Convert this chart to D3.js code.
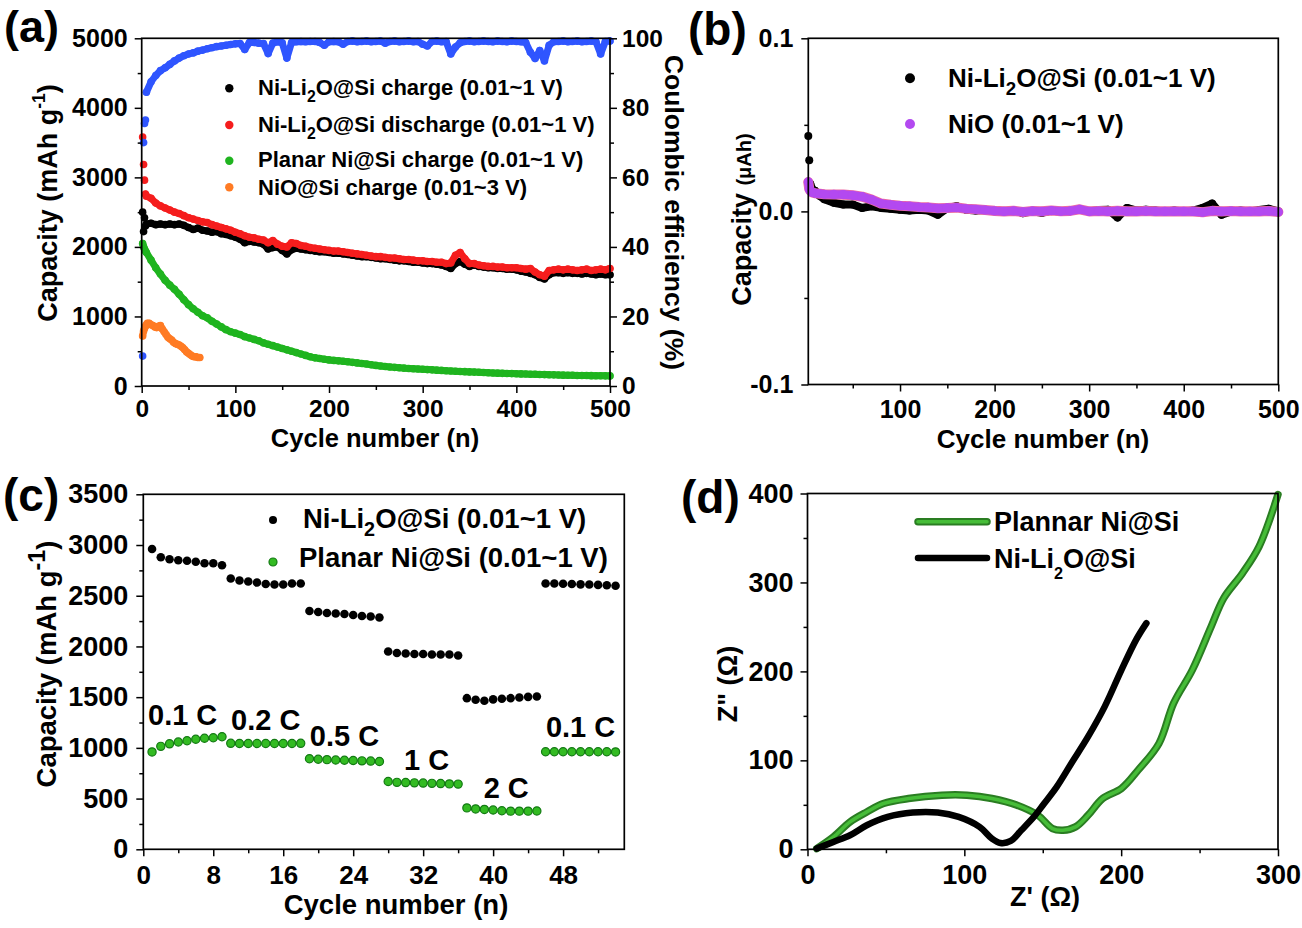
<!DOCTYPE html>
<html><head><meta charset="utf-8">
<script src="https://cdn.jsdelivr.net/npm/d3@7/dist/d3.min.js"></script>
<style>
html,body{margin:0;padding:0;background:#fff;}
svg{display:block;}
</style></head>
<body>
<svg id="fig" width="1302" height="928"></svg>
<script>
// ================= DATA =================
// ---- Panel (a): cycling, capacity (mAh/g) and coulombic efficiency (%) ----
const cyclesA = [1,2,3,4].concat(d3.range(5, 501, 5));
const chargeA = [2500,2220,2420,2300,
  2330,2340,2320,2330,2320,2330,2320,2330,2310,2280,
  2250,2270,2240,2230,2210,2220,2190,2180,2160,2140,
  2110,2060,2080,2070,2060,2040,1970,1990,2000,1950,
  1900,1960,1980,1970,1960,1950,1940,1930,1930,1920,
  1910,1910,1900,1890,1880,1870,1860,1860,1850,1840,
  1830,1830,1820,1810,1800,1800,1790,1780,1780,1770,
  1760,1760,1750,1740,1720,1690,1760,1790,1750,1720,
  1740,1720,1710,1700,1700,1690,1690,1680,1680,1670,
  1650,1640,1620,1600,1560,1540,1600,1630,1630,1620,
  1630,1620,1620,1610,1620,1610,1600,1610,1600,1600];
const dischargeA = [3580,3185,2960,2760,
  2730,2700,2630,2590,2560,2530,2500,2480,2450,2420,
  2400,2380,2360,2350,2320,2300,2280,2260,2240,2210,
  2190,2160,2140,2130,2110,2100,2060,2090,2040,2010,
  2000,2060,2050,2020,2010,1990,1980,1970,1960,1950,
  1940,1940,1930,1920,1910,1900,1890,1880,1870,1860,
  1860,1850,1840,1840,1830,1820,1820,1810,1800,1800,
  1790,1790,1780,1780,1760,1770,1880,1920,1830,1760,
  1760,1740,1730,1720,1720,1710,1710,1700,1700,1700,
  1690,1680,1690,1640,1600,1580,1660,1670,1680,1670,
  1680,1670,1660,1670,1680,1660,1670,1680,1670,1690];
const planarA = [2050,2000,1970,1940,
  1920,1810,1700,1610,1520,1450,1390,1320,1240,1170,
  1110,1060,1010,980,930,890,850,810,780,760,
  740,710,690,670,650,620,600,580,560,540,
  520,500,480,460,440,420,405,395,385,375,
  368,362,356,348,340,332,324,316,306,296,
  288,280,274,268,262,257,252,248,244,240,
  236,232,228,224,220,216,212,209,206,203,
  200,197,194,191,188,185,182,180,178,176,
  174,172,170,168,166,164,162,160,158,156,
  155,154,152,151,150,149,148,147,146,145];
const ceA = [8.6,70,75.5,76.5,
  84.5,87.5,89.3,90.7,91.5,92.5,93.5,94.3,95,95.5,
  95.8,96.3,96.6,97,97.3,97.6,97.8,98,98.2,98.4,
  98.5,96.8,98.8,98.8,98.6,98.5,95.6,98.6,99,98.7,
  94.3,98.8,99,99.1,99,99.1,99.1,98.8,98,99,
  99.1,99,98.3,99.1,99.2,99,99.1,99.2,99,99.1,
  99.2,98.6,99.1,99.2,99,99.1,99.2,99,99.1,98.3,
  97.8,99.1,99.2,99,99.1,95.5,97.5,98.7,99.1,99.2,
  99,99.1,99.2,99.1,99,99.2,99.1,99,99.2,99.1,
  99,98.8,96,94.2,96.5,93.5,98,99,99.1,99.2,
  99,99.1,99.2,99,99.1,99.2,99,95.5,99.1,99.2];
const cyclesNiO = [1,2,3,4,5,6,7,8,10,12,14,16,18,20,22,24,26,28,30,32,34,36,38,40,42,44,46,48,50,52,54,56,58,60,62];
const nioA = [720,790,830,860,880,900,890,900,880,870,850,840,860,870,820,780,740,700,680,660,630,610,600,590,570,550,520,490,470,450,430,420,420,410,410];
const legendA = ["Ni-Li₂O@Si charge (0.01~1 V)", "Ni-Li₂O@Si discharge (0.01~1 V)", "Planar Ni@Si charge (0.01~1 V)", "NiO@Si charge (0.01~3 V)"];
const ticksAx = [0,100,200,300,400,500];
const ticksAy = [0,1000,2000,3000,4000,5000];
const ticksAy2 = [0,20,40,60,80,100];

// ---- Panel (b): capacity (µAh) of current collector ----
const cyclesB = [3,4,5,7,10,15,20].concat(d3.range(30, 501, 10));
const niLiB = [0.0435,0.0295,0.016,0.013,0.012,0.009,0.007,
  0.005,0.004,0.004,0.002,0.003,0.002,0.0015,0.001,0.0005,0.001,
  0.0005,-0.002,0.002,0.003,0.001,0.0005,0.0008,0.0003,0,0.0005,
  -0.001,0,-0.0008,0.0005,0,0.0005,0.001,0,0.0008,0.001,
  -0.0035,0.002,0.0005,0.001,0.0005,0,0.0005,0,0.0005,0.002,
  0.0045,-0.002,0,0.0005,0,0.0008,0.0015,0];
const nioB = [0.017,0.013,0.012,0.011,0.0105,0.0102,0.0099,
  0.0098,0.0097,0.0093,0.0085,0.0068,0.0045,0.0038,0.0033,0.003,0.0025,
  0.0023,0.0018,0.002,0.0022,0.0015,0.0012,0.0008,0.0003,0,0.0003,
  -0.0003,0.0002,0,0.0005,0.0001,0.0003,0.0012,0,0.0002,0,
  0.0003,0,0,0.0002,0,0,0.0001,0,0,-0.0005,
  0.0003,0,0.0002,0,0,0,0.0002,-0.0003];
const legendB = ["Ni-Li₂O@Si (0.01~1 V)", "NiO (0.01~1 V)"];
const ticksBx = [100,200,300,400,500];
const ticksBy = [-0.1,0,0.1];

// ---- Panel (c): rate capability ----
const cyclesC = d3.range(1, 55);
const niLiC = [2960,2880,2860,2850,2845,2835,2820,2820,2800,
  2670,2650,2640,2630,2615,2610,2610,2620,2620,
  2350,2340,2330,2325,2320,2310,2300,2295,2285,
  1950,1935,1930,1925,1925,1920,1920,1920,1910,
  1490,1475,1465,1478,1485,1490,1497,1503,1507,
  2620,2620,2618,2615,2612,2610,2607,2603,2598];
const planarC = [960,1015,1040,1058,1070,1085,1095,1100,1110,
  1045,1043,1043,1043,1043,1043,1043,1043,1045,
  893,888,884,880,878,875,872,870,866,
  668,660,658,655,653,650,648,645,643,
  408,398,393,387,380,376,376,376,378,
  962,962,962,962,962,962,962,962,960];
const rateLabels = ["0.1 C","0.2 C","0.5 C","1 C","2 C","0.1 C"];
const rateCycle = [4.5,14,23,32.4,41.5,50];
const rateCap = [1225,1176,1018,782,506,1107];
const legendC = ["Ni-Li₂O@Si (0.01~1 V)", "Planar Ni@Si (0.01~1 V)"];
const ticksCx = [0,8,16,24,32,40,48];
const ticksCy = [0,500,1000,1500,2000,2500,3000,3500];

// ---- Panel (d): Nyquist plots ----
const zReP = [5.9,16.5,27.1,37.8,48.4,64.4,85.7,101.7,117.6,133.6,146.9,156.2,162.9,170.9,178.9,188.2,200.2,210.8,224.1,233.4,245.4,257.4,265.4,277.4,288,300];
const zImP = [0.8,13.9,30.8,42,51.5,57.1,60.8,60.8,57.1,49.6,38.3,23.3,21.4,25.2,38.3,57.1,68.4,89,119,164.1,201.7,250.5,282.4,310.5,340.6,398.9];
const zReN = [5.9,16.5,27.1,37.8,51.1,67.1,83,96.4,109.7,117.6,123,129.6,136.3,144.3,150.9,158.9,168.2,178.9,189.5,200.2,209.5,216.1];
const zImN = [0.8,8.3,15.8,27,36.4,41.3,41.3,36.4,25.2,12,7.1,9.4,21.4,36.4,51.5,70.2,96.5,126.6,160.4,201.7,235.5,254.3];
const legendD = ["Plannar Ni@Si", "Ni-Li₂O@Si"];
const ticksDx = [0,100,200,300];
const ticksDy = [0,100,200,300,400];

// ================= HELPERS =================
const FONT = '"Liberation Sans", Arial, Helvetica, sans-serif';
const svg = d3.select('#fig');

function rich(t, str, fs, o = {}) {
  const subScale = o.subScale || 0.72, subDy = o.subDy || 0.3;
  const supScale = o.supScale || 0.65, supDy = o.supDy || 0.45;
  let shift = 0;
  str.split(/(₂|⁻¹)/).forEach(p => {
    if (!p) return;
    let target = 0, size = null, txt = p;
    if (p === '₂') { target = fs * subDy; size = fs * subScale; txt = '2'; }
    else if (p === '⁻¹') { target = -fs * supDy; size = fs * supScale; txt = '-1'; }
    const ts = t.append('tspan').text(txt);
    if (target - shift !== 0) ts.attr('dy', target - shift);
    if (size) ts.style('font-size', size + 'px');
    shift = target;
  });
}
function label(g, str, x, y, fs, anchor = 'start', rot = 0, o = {}) {
  const t = g.append('text')
    .attr('transform', `translate(${x},${y}) rotate(${rot})`)
    .attr('text-anchor', anchor).attr('fill', '#000')
    .style('font-family', FONT).style('font-weight', 'bold').style('font-size', fs + 'px');
  rich(t, str, fs, o);
  return t;
}
function axis(g, kind, scale, major, minor, fmt, fs, pad, tx, ty) {
  const gen = {left: d3.axisLeft, right: d3.axisRight, bottom: d3.axisBottom}[kind];
  const a = g.append('g').attr('transform', `translate(${tx},${ty})`)
    .call(gen(scale).tickValues(major).tickSize(7).tickSizeOuter(0).tickPadding(pad).tickFormat(fmt));
  a.select('.domain').remove();
  a.selectAll('line').attr('stroke', '#000').attr('stroke-width', 1.5);
  a.selectAll('text').attr('fill', '#000').style('font-family', FONT)
    .style('font-weight', 'bold').style('font-size', fs + 'px');
  if (minor) {
    const m = g.append('g').attr('transform', `translate(${tx},${ty})`)
      .call(gen(scale).tickValues(minor).tickSize(4).tickSizeOuter(0).tickFormat(''));
    m.select('.domain').remove();
    m.selectAll('line').attr('stroke', '#000').attr('stroke-width', 1.5);
  }
}
function frame(g, xs, ys) {
  g.append('rect').attr('x', xs.range()[0]).attr('y', ys.range()[1])
    .attr('width', xs.range()[1] - xs.range()[0]).attr('height', ys.range()[0] - ys.range()[1])
    .attr('fill', 'none').attr('stroke', '#000').attr('stroke-width', 1.7);
}
function band(g, xv, yv, xs, ys, color, width, r, startIdx, edge) {
  const pts = xv.map((x, i) => [x, yv[i]]);
  const line = d3.line().x(d => xs(d[0])).y(d => ys(d[1]));
  if (edge) {
    g.append('path').attr('d', line(pts.slice(startIdx))).attr('fill', 'none')
      .attr('stroke', edge).attr('stroke-width', width + 1.6)
      .attr('stroke-linejoin', 'round').attr('stroke-linecap', 'round');
  }
  g.append('path').attr('d', line(pts.slice(startIdx))).attr('fill', 'none')
    .attr('stroke', color).attr('stroke-width', width)
    .attr('stroke-linejoin', 'round').attr('stroke-linecap', 'round');
  g.append('g').selectAll('circle').data(pts).join('circle')
    .attr('cx', d => xs(d[0])).attr('cy', d => ys(d[1])).attr('r', r).attr('fill', color);
}
const minorRange = (a, b, s) => d3.range(a, b + 1e-9, s);

const BLUE = '#2f55ff', RED = '#f51d1d', GREEN = '#1fb41f', ORANGE = '#ff7b24', PURPLE = '#b349f0';

// ================= PANEL (a) =================
{
  const g = svg.append('g');
  const x = d3.scaleLinear([0, 500], [141.7, 610]);
  const y = d3.scaleLinear([0, 5000], [386, 38.3]);
  const y2 = d3.scaleLinear([0, 100], [386, 38.3]);

  band(g, cyclesA, planarA, x, y, GREEN, 7, 3.8, 0);
  band(g, cyclesNiO, nioA, x, y, ORANGE, 7, 3.8, 0);
  band(g, cyclesA, chargeA, x, y, '#000', 7, 3.8, 4);
  band(g, cyclesA, dischargeA, x, y, RED, 7, 3.8, 3);
  band(g, cyclesA, ceA, x, y2, BLUE, 7, 3.8, 4);

  frame(g, x, y);
  axis(g, 'bottom', x, ticksAx, minorRange(50, 450, 100), d3.format('d'), 24.5, 7, 0, 386);
  axis(g, 'left', y, ticksAy, minorRange(500, 4500, 1000), d3.format('d'), 25, 7, 141.7, 0);
  axis(g, 'right', y2, ticksAy2, minorRange(10, 90, 20), d3.format('d'), 24.5, 5, 610, 0);

  const colA = ['#000', RED, GREEN, ORANGE];
  const rowY = [88.3, 125, 160.7, 187.3];
  const baseY = [95, 132, 167, 195];
  legendA.forEach((s, i) => {
    g.append('circle').attr('cx', 229.3).attr('cy', rowY[i]).attr('r', 4.2).attr('fill', colA[i]);
    label(g, s, 258, baseY[i], 22);
  });

  label(g, 'Cycle number (n)', 375, 447, 25.5, 'middle');
  label(g, 'Capacity (mAh g⁻¹)', 57, 203, 27, 'middle', -90);
  label(g, 'Coulombic efficiency (%)', 665, 212.5, 26.5, 'middle', 90);
  label(g, '(a)', 4, 42, 45);
}

// ================= PANEL (b) =================
{
  const g = svg.append('g');
  const x = d3.scaleLinear([3, 500], [808.3, 1278.3]);
  const y = d3.scaleLinear([-0.1, 0.1], [384.5, 38.3]);

  band(g, cyclesB, niLiB, x, y, '#000', 8, 4, 2);
  band(g, cyclesB, nioB, x, y, PURPLE, 8.5, 4.6, 0, '#ec6aa2');

  frame(g, x, y);
  axis(g, 'bottom', x, ticksBx, minorRange(50, 450, 100), d3.format('d'), 25, 9, 0, 384.5);
  axis(g, 'left', y, ticksBy, [-0.05, 0.05], d => d.toFixed(1), 25, 8, 808.3, 0);

  const colB = ['#000', PURPLE];
  const rowY = [78.3, 124];
  const baseY = [87, 133];
  legendB.forEach((s, i) => {
    g.append('circle').attr('cx', 910).attr('cy', rowY[i]).attr('r', 5).attr('fill', colB[i]);
    label(g, s, 948, baseY[i], 26);
  });

  label(g, 'Cycle number (n)', 1043, 448, 26, 'middle');
  const t = g.append('text').attr('transform', 'translate(751,219.5) rotate(-90)')
    .attr('text-anchor', 'middle').attr('fill', '#000')
    .style('font-family', FONT).style('font-weight', 'bold');
  t.append('tspan').style('font-size', '27px').text('Capacity ');
  t.append('tspan').style('font-size', '20px').text('(μAh)');
  label(g, '(b)', 688, 45, 46);
}

// ================= PANEL (c) =================
{
  const g = svg.append('g');
  const x = d3.scaleLinear([0, 55], [143.3, 624.3]);
  const y = d3.scaleLinear([0, 3500], [849.3, 494.3]);

  g.append('g').selectAll('circle').data(cyclesC).join('circle')
    .attr('cx', d => x(d)).attr('cy', (d, i) => y(niLiC[i])).attr('r', 4.3).attr('fill', '#000');
  g.append('g').selectAll('circle').data(cyclesC).join('circle')
    .attr('cx', d => x(d)).attr('cy', (d, i) => y(planarC[i])).attr('r', 4.1)
    .attr('fill', '#33bb22').attr('stroke', '#137a13').attr('stroke-width', 1.2);

  rateLabels.forEach((s, i) => label(g, s, x(rateCycle[i]), y(rateCap[i]), 29, 'middle'));

  frame(g, x, y);
  axis(g, 'bottom', x, ticksCx, minorRange(4, 52, 8), d3.format('d'), 26, 9, 0, 849.3);
  axis(g, 'left', y, ticksCy, minorRange(250, 3250, 500), d3.format('d'), 27, 8, 143.3, 0);

  g.append('circle').attr('cx', 273).attr('cy', 520).attr('r', 4).attr('fill', '#000');
  g.append('circle').attr('cx', 273).attr('cy', 562).attr('r', 4).attr('fill', '#33bb22')
    .attr('stroke', '#137a13').attr('stroke-width', 1.2);
  label(g, legendC[0], 303, 528, 27.5);
  label(g, legendC[1], 299, 567, 27.5);

  label(g, 'Cycle number (n)', 396, 914, 27.5, 'middle');
  label(g, 'Capacity (mAh g⁻¹)', 56, 664, 27.5, 'middle', -90, {supScale: 0.85, supDy: 0.4});
  label(g, '(c)', 3, 511, 46);
}

// ================= PANEL (d) =================
{
  const g = svg.append('g');
  const x = d3.scaleLinear([0, 300], [807.5, 1278]);
  const y = d3.scaleLinear([0, 400], [849.3, 493.5]);
  const line = d3.line().x(d => x(d[0])).y(d => y(d[1])).curve(d3.curveCatmullRom);

  const pP = zReP.map((v, i) => [v, zImP[i]]);
  const pN = zReN.map((v, i) => [v, zImN[i]]);
  g.append('path').attr('d', line(pP)).attr('fill', 'none').attr('stroke', '#2a7d22')
    .attr('stroke-width', 7.5).attr('stroke-linejoin', 'round').attr('stroke-linecap', 'round');
  g.append('path').attr('d', line(pP)).attr('fill', 'none').attr('stroke', '#46bd38')
    .attr('stroke-width', 3.6).attr('stroke-linejoin', 'round').attr('stroke-linecap', 'round');
  g.append('path').attr('d', line(pN)).attr('fill', 'none').attr('stroke', '#000')
    .attr('stroke-width', 6.5).attr('stroke-linejoin', 'round').attr('stroke-linecap', 'round');

  frame(g, x, y);
  axis(g, 'bottom', x, ticksDx, minorRange(50, 250, 100), d3.format('d'), 27, 9, 0, 849.3);
  axis(g, 'left', y, ticksDy, minorRange(50, 350, 100), d3.format('d'), 27, 7, 807.5, 0);

  // legend
  g.append('line').attr('x1', 918).attr('x2', 987).attr('y1', 521.7).attr('y2', 521.7)
    .attr('stroke', '#2a7d22').attr('stroke-width', 7.5).attr('stroke-linecap', 'round');
  g.append('line').attr('x1', 918).attr('x2', 987).attr('y1', 521.7).attr('y2', 521.7)
    .attr('stroke', '#46bd38').attr('stroke-width', 3.6).attr('stroke-linecap', 'round');
  g.append('line').attr('x1', 918).attr('x2', 987).attr('y1', 558).attr('y2', 558)
    .attr('stroke', '#000').attr('stroke-width', 6.5).attr('stroke-linecap', 'round');
  label(g, legendD[0], 994, 531, 27);
  label(g, legendD[1], 994, 568, 27, 'start', 0, {subScale: 0.6, subDy: 0.4});

  label(g, "Z' (Ω)", 1045, 906, 27, 'middle');
  label(g, 'Z" (Ω)', 737, 684, 27, 'middle', -90);
  label(g, '(d)', 681, 513, 46);
}
</script>
</body></html>
